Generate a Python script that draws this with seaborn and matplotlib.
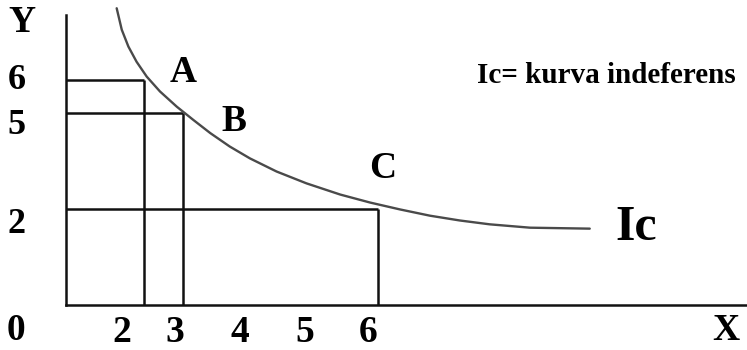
import numpy as np
import matplotlib
matplotlib.use('Agg')
import matplotlib.pyplot as plt
import matplotlib.transforms as mtransforms
import seaborn as sns

# consumption bundles on the indifference curve
bundle_names = ['A', 'B', 'C']
bundle_x = [2, 3, 6]
bundle_y = [6, 5, 2]

# indifference curve Ic
curve_x = [1.30, 1.43, 1.60, 1.81, 2.07, 2.41, 2.84, 3.16, 3.42, 3.72, 4.03,
           4.44, 4.90, 5.42, 5.88, 6.34, 6.80, 7.26, 7.72, 8.34, 9.26]
curve_y = [8.17, 7.52, 7.01, 6.55, 6.10, 5.65, 5.19, 4.78, 4.37, 3.95, 3.58,
           3.17, 2.80, 2.45, 2.20, 1.99, 1.86, 1.76, 1.68, 1.61, 1.59]

x_ticks = [2, 3, 4, 5, 6]
y_ticks = [2, 5, 6]

# the sketch is not drawn to scale -> piecewise linear axes
x_knots = [0, 3, 12]
x_span = [0, 117, 702]
y_knots = [0, 2, 5, 6, 9]
y_span = [0, 96, 192, 225, 324]

sns.set_style('white')
plt.rcParams['font.family'] = ['Liberation Serif', 'DejaVu Serif']
plt.rcParams['font.weight'] = 'bold'
plt.rcParams['text.color'] = 'black'
plt.rcParams['xtick.labelcolor'] = 'black'
plt.rcParams['ytick.labelcolor'] = 'black'

fig = plt.figure(figsize=(7.47, 3.5), dpi=100)
ax = fig.add_axes([66 / 747, 45 / 350, 681 / 747, 305 / 350])

ax.set_xscale('function', functions=(lambda v: np.interp(v, x_knots, x_span),
                                     lambda p: np.interp(p, x_span, x_knots)))
ax.set_yscale('function', functions=(lambda v: np.interp(v, y_knots, y_span),
                                     lambda p: np.interp(p, y_span, y_knots)))
ax.set_xlim(0, 11.68)
ax.set_ylim(0, 8.42)

# guide lines from the axes to each bundle
ax.hlines(bundle_y, 0, bundle_x, color='#111111', lw=1.8)
ax.vlines(bundle_x, 0, bundle_y, color='#111111', lw=1.8)

sns.lineplot(x=curve_x, y=curve_y, sort=False, estimator=None, ax=ax,
             color='#4a4a4a', lw=1.7)

for s in ['top', 'right']:
    ax.spines[s].set_visible(False)
for s in ['left', 'bottom']:
    ax.spines[s].set_color('#111111')
    ax.spines[s].set_linewidth(1.8)
ax.spines['left'].set_bounds(0, 7.97)

ax.set_xticks(x_ticks)
ax.set_xticklabels([str(t) for t in x_ticks], fontsize=27, fontweight='bold')
ax.set_yticks(y_ticks)
ax.set_yticklabels([str(t) for t in y_ticks], fontsize=26, fontweight='bold')
ax.tick_params(axis='x', length=0, pad=7)
ax.tick_params(axis='y', length=0, pad=29)

# hand-drawn labels sit a little off their ticks
x_shift = [-22, -8, -8, -8, -10]
y_shift = [-12, -9, 3]
for lab, dx in zip(ax.get_xticklabels(), x_shift):
    lab.set_transform(lab.get_transform() + mtransforms.ScaledTranslation(dx / 100, 0, fig.dpi_scale_trans))
for lab, dy in zip(ax.get_yticklabels(), y_shift):
    lab.set_transform(lab.get_transform() + mtransforms.ScaledTranslation(0, dy / 100, fig.dpi_scale_trans))

txt = dict(ha='center', va='center', fontweight='bold', textcoords='offset pixels')
ax.annotate('0', xy=(0, 0), xytext=(-50, -26), fontsize=27, annotation_clip=False, **txt)
ax.annotate('Y', xy=(0, 7.97), xytext=(-44, -8), fontsize=27, annotation_clip=False, **txt)
ax.annotate('X', xy=(1, 0), xycoords='axes fraction', xytext=(-21, -25), fontsize=27,
            annotation_clip=False, **txt)

label_offsets = [(39, 7), (51, -9), (5, 40)]
for name, bx, by, off in zip(bundle_names, bundle_x, bundle_y, label_offsets):
    ax.annotate(name, xy=(bx, by), xytext=off, fontsize=27, **txt)

ax.annotate('Ic', xy=(curve_x[-1], curve_y[-1]), xytext=(46, 1), fontsize=36, **txt)
ax.text(0.6035, 0.751, 'Ic= kurva indeferens', transform=ax.transAxes,
        ha='left', va='center', fontsize=21, fontweight='bold')

fig.savefig('out.png', dpi=100)
